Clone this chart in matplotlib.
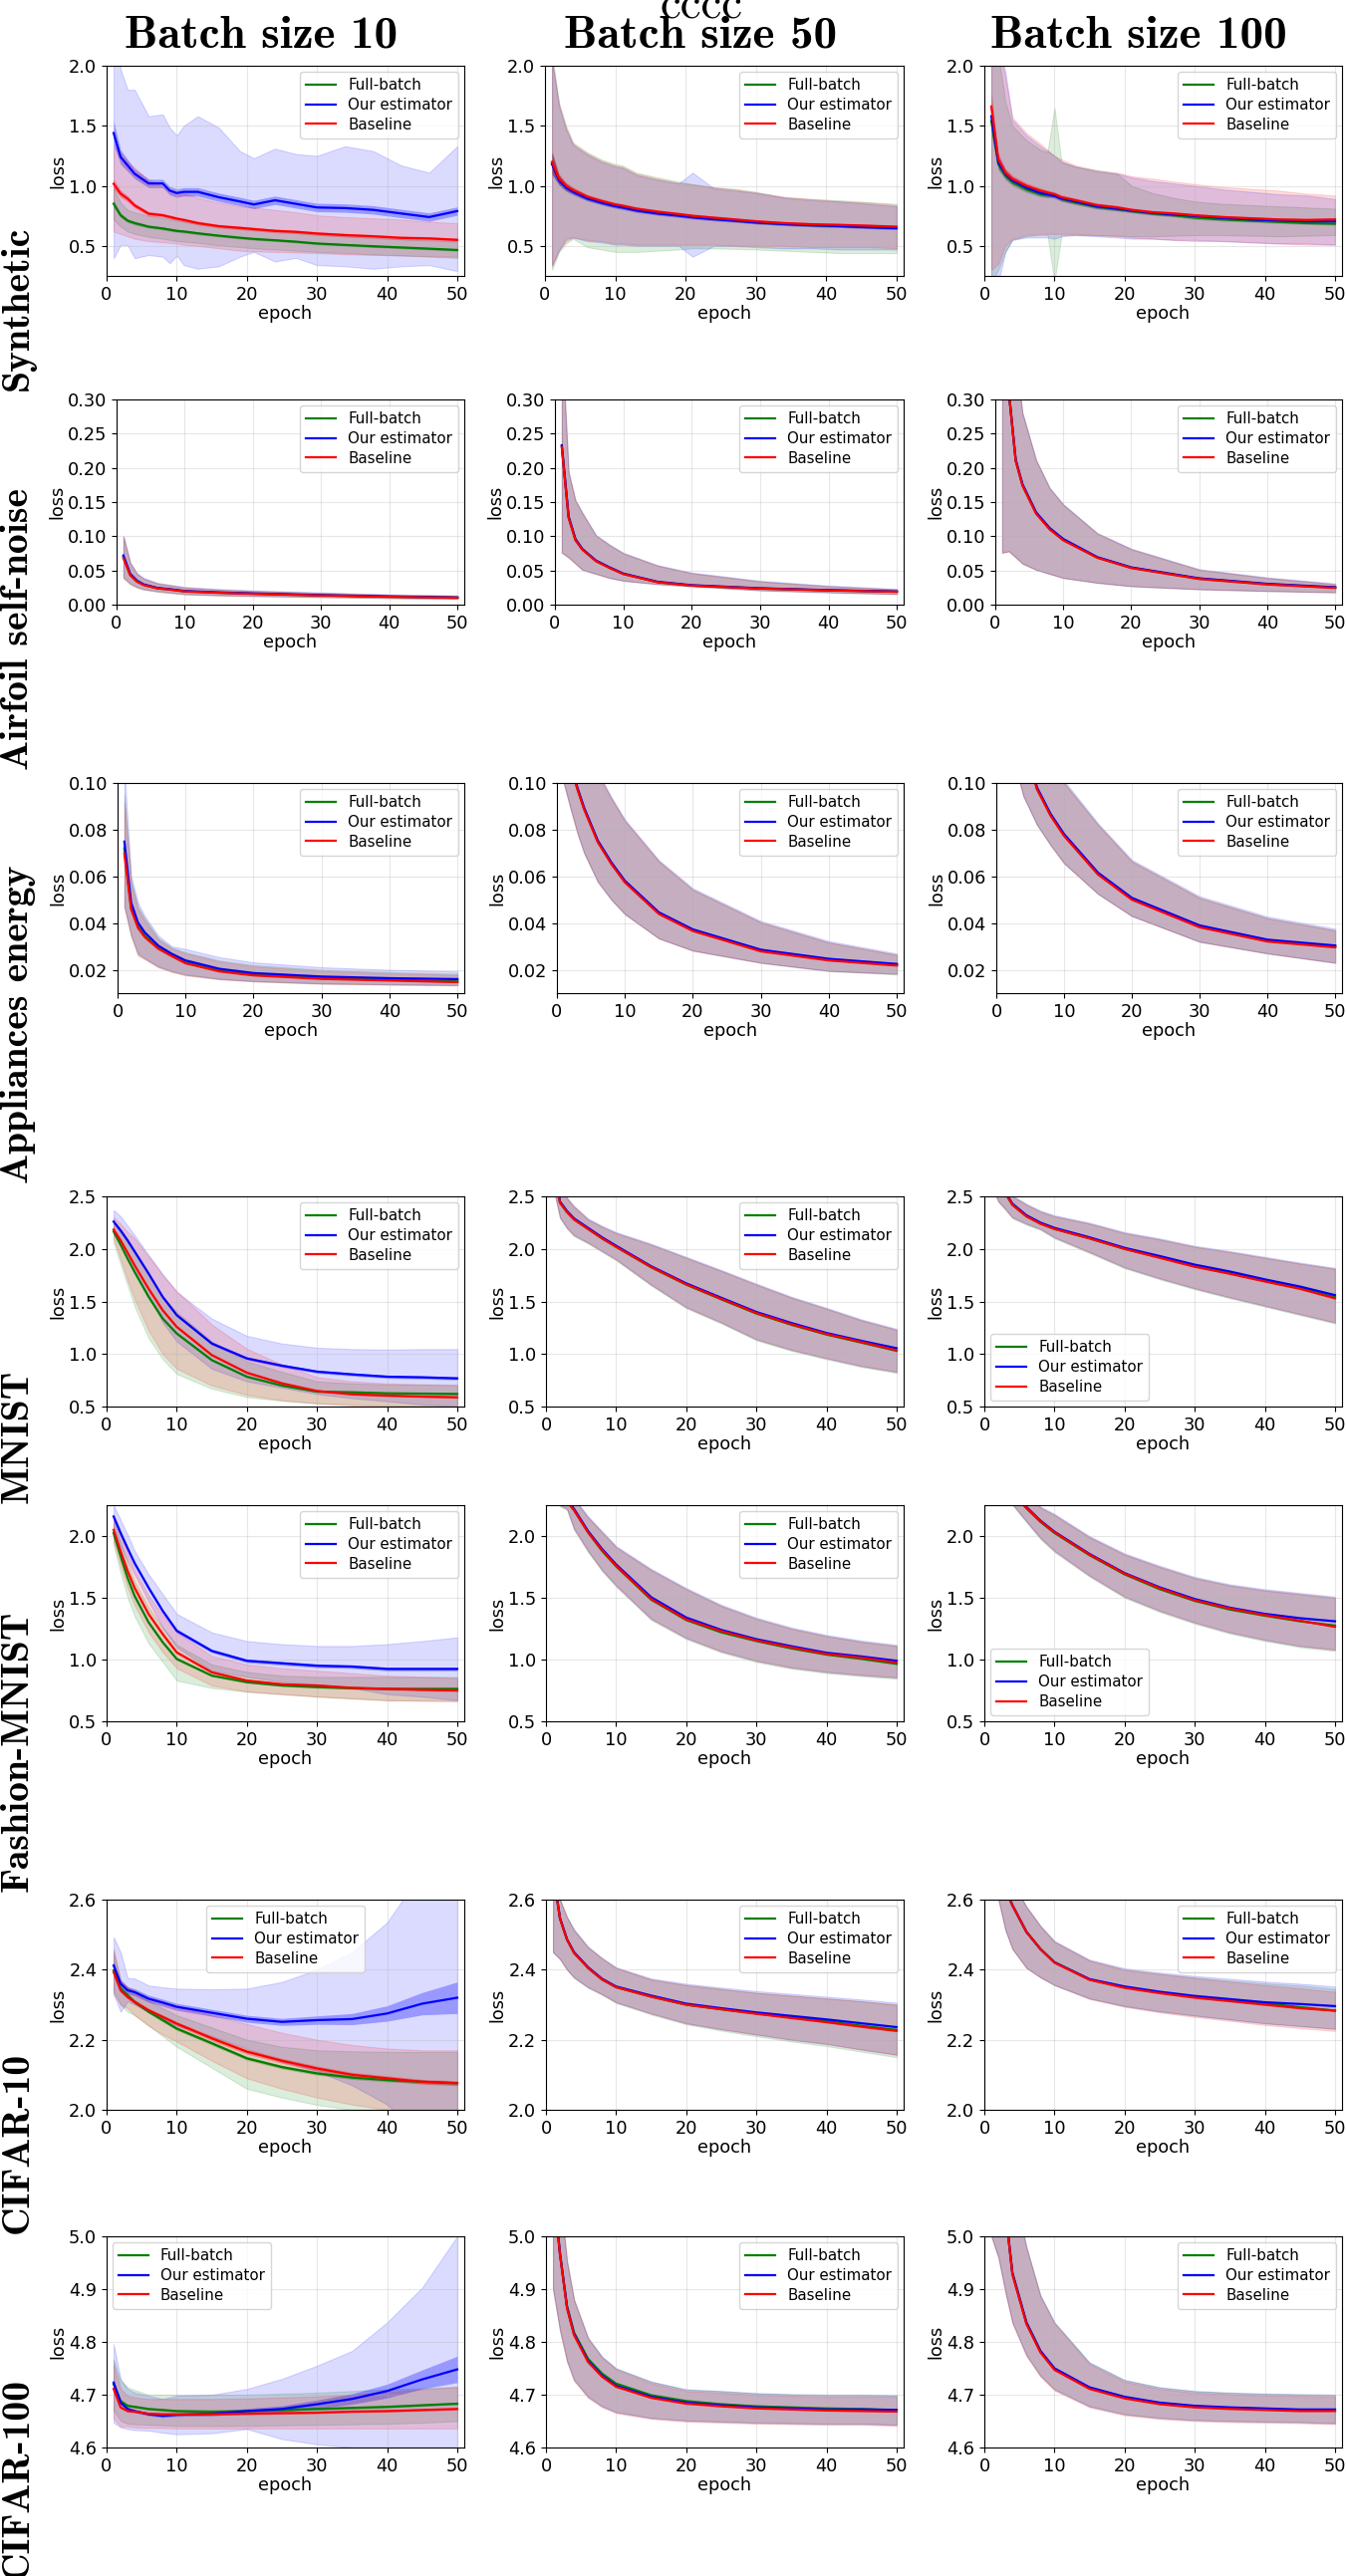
import os
import matplotlib
matplotlib.use("Agg")
import matplotlib.pyplot as plt
from matplotlib.font_manager import FontProperties

EPOCHS_SYN = [1, 2, 3, 4, 6, 8, 9, 10, 11, 13, 16, 19, 21, 24, 27, 30, 34, 38, 42, 46, 50]
EPOCHS_A = [1, 2, 3, 4, 6, 8, 10, 15, 20, 30, 40, 50]
EPOCHS_B = [1, 2, 3, 4, 6, 8, 10, 15, 20, 25, 30, 35, 40, 45, 50]

LABELS = ["Full-batch", "Our estimator", "Baseline"]
COLORS = ["green", "blue", "red"]
BATCH_TITLES = ["Batch size 10", "Batch size 50", "Batch size 100"]
DATASETS = ["Synthetic", "Airfoil self-noise", "Appliances energy", "MNIST",
            "Fashion-MNIST", "CIFAR-10", "CIFAR-100"]

# ---------------- Synthetic ----------------  (order: full-batch, ours, baseline)
syn_b10_mean = [
    [0.851, 0.755, 0.71, 0.69, 0.66, 0.645, 0.635, 0.625, 0.62, 0.605, 0.585, 0.568, 0.558, 0.547, 0.535, 0.52, 0.508, 0.497, 0.487, 0.477, 0.466],
    [1.44, 1.24, 1.17, 1.10, 1.02, 1.02, 0.96, 0.94, 0.95, 0.95, 0.905, 0.87, 0.845, 0.88, 0.85, 0.82, 0.815, 0.80, 0.77, 0.74, 0.79],
    [1.017, 0.934, 0.893, 0.837, 0.768, 0.755, 0.741, 0.727, 0.716, 0.69, 0.664, 0.65, 0.64, 0.625, 0.617, 0.603, 0.59, 0.58, 0.567, 0.562, 0.55]]
syn_b10_hi = [
    [0.98, 0.86, 0.80, 0.78, 0.75, 0.73, 0.72, 0.71, 0.70, 0.685, 0.665, 0.645, 0.635, 0.625, 0.61, 0.595, 0.58, 0.565, 0.555, 0.545, 0.535],
    [2.45, 1.97, 1.80, 1.80, 1.58, 1.595, 1.485, 1.42, 1.50, 1.58, 1.485, 1.29, 1.23, 1.31, 1.265, 1.25, 1.33, 1.29, 1.17, 1.11, 1.33],
    [1.33, 1.27, 1.20, 1.15, 1.05, 0.99, 0.97, 0.95, 0.94, 0.90, 0.86, 0.83, 0.82, 0.80, 0.78, 0.755, 0.74, 0.73, 0.72, 0.70, 0.69]]
syn_b10_lo = [
    [0.72, 0.66, 0.62, 0.60, 0.575, 0.56, 0.55, 0.54, 0.535, 0.525, 0.505, 0.49, 0.48, 0.47, 0.46, 0.45, 0.44, 0.43, 0.42, 0.41, 0.40],
    [0.397, 0.507, 0.507, 0.397, 0.424, 0.41, 0.355, 0.42, 0.34, 0.31, 0.33, 0.41, 0.45, 0.37, 0.40, 0.34, 0.33, 0.31, 0.33, 0.34, 0.29],
    [0.62, 0.60, 0.58, 0.56, 0.54, 0.53, 0.525, 0.52, 0.51, 0.50, 0.48, 0.46, 0.455, 0.45, 0.445, 0.44, 0.43, 0.425, 0.42, 0.415, 0.41]]
syn_b10_se = [
    [0.03, 0.02, 0.015, 0.015, 0.012, 0.012, 0.012, 0.012, 0.012, 0.012, 0.01, 0.01, 0.01, 0.01, 0.01, 0.01, 0.01, 0.01, 0.01, 0.01, 0.01],
    [0.10, 0.06, 0.05, 0.04, 0.035, 0.035, 0.035, 0.035, 0.035, 0.035, 0.035, 0.035, 0.035, 0.035, 0.035, 0.035, 0.035, 0.035, 0.035, 0.035, 0.035],
    [0.04, 0.03, 0.025, 0.02, 0.018, 0.017, 0.017, 0.016, 0.016, 0.016, 0.015, 0.015, 0.015, 0.015, 0.015, 0.015, 0.015, 0.015, 0.015, 0.015, 0.015]]

syn_b50_mean = [
    [1.19, 1.05, 0.99, 0.955, 0.90, 0.865, 0.85, 0.837, 0.826, 0.80, 0.776, 0.757, 0.745, 0.728, 0.714, 0.697, 0.683, 0.673, 0.665, 0.658, 0.65],
    [1.18, 1.045, 0.985, 0.95, 0.895, 0.86, 0.845, 0.83, 0.82, 0.795, 0.77, 0.752, 0.738, 0.722, 0.71, 0.695, 0.682, 0.672, 0.665, 0.655, 0.648],
    [1.20, 1.06, 1.00, 0.965, 0.91, 0.875, 0.86, 0.845, 0.835, 0.81, 0.785, 0.765, 0.75, 0.735, 0.72, 0.705, 0.69, 0.68, 0.675, 0.668, 0.66]]
syn_b50_hi = [
    [2.10, 1.69, 1.50, 1.36, 1.28, 1.22, 1.20, 1.18, 1.17, 1.11, 1.07, 1.035, 1.015, 0.99, 0.975, 0.95, 0.905, 0.89, 0.88, 0.865, 0.85],
    [2.05, 1.66, 1.47, 1.34, 1.26, 1.20, 1.18, 1.16, 1.15, 1.09, 1.05, 1.02, 1.11, 0.98, 0.96, 0.94, 0.90, 0.88, 0.87, 0.85, 0.83],
    [2.05, 1.68, 1.48, 1.35, 1.27, 1.21, 1.19, 1.17, 1.16, 1.10, 1.06, 1.025, 1.01, 0.985, 0.97, 0.945, 0.91, 0.89, 0.87, 0.86, 0.84]]
syn_b50_lo = [
    [0.30, 0.45, 0.52, 0.56, 0.49, 0.47, 0.46, 0.45, 0.45, 0.45, 0.46, 0.47, 0.48, 0.48, 0.475, 0.47, 0.46, 0.45, 0.44, 0.44, 0.44],
    [0.34, 0.46, 0.56, 0.57, 0.54, 0.53, 0.52, 0.51, 0.51, 0.50, 0.50, 0.50, 0.41, 0.50, 0.50, 0.49, 0.48, 0.48, 0.47, 0.47, 0.47],
    [0.33, 0.47, 0.54, 0.57, 0.55, 0.54, 0.53, 0.52, 0.52, 0.51, 0.51, 0.51, 0.51, 0.51, 0.50, 0.50, 0.50, 0.49, 0.49, 0.49, 0.48]]
syn_b50_se = [
    [0.09, 0.04, 0.03, 0.025, 0.02, 0.018, 0.018, 0.017, 0.017, 0.016, 0.015, 0.015, 0.015, 0.014, 0.014, 0.013, 0.013, 0.013, 0.012, 0.012, 0.012],
    [0.09, 0.04, 0.03, 0.025, 0.02, 0.018, 0.018, 0.017, 0.017, 0.016, 0.015, 0.015, 0.015, 0.014, 0.014, 0.013, 0.013, 0.013, 0.012, 0.012, 0.012],
    [0.09, 0.04, 0.03, 0.025, 0.02, 0.018, 0.018, 0.017, 0.017, 0.016, 0.015, 0.015, 0.015, 0.014, 0.014, 0.013, 0.013, 0.013, 0.012, 0.012, 0.012]]

syn_b100_mean = [
    [1.54, 1.18, 1.085, 1.03, 0.97, 0.93, 0.92, 0.925, 0.89, 0.86, 0.825, 0.805, 0.79, 0.77, 0.755, 0.735, 0.72, 0.71, 0.70, 0.69, 0.685],
    [1.58, 1.195, 1.10, 1.045, 0.985, 0.94, 0.93, 0.915, 0.895, 0.87, 0.83, 0.81, 0.795, 0.775, 0.762, 0.75, 0.733, 0.72, 0.712, 0.705, 0.705],
    [1.66, 1.22, 1.11, 1.057, 1.0, 0.96, 0.945, 0.93, 0.905, 0.88, 0.84, 0.82, 0.80, 0.78, 0.77, 0.755, 0.74, 0.73, 0.72, 0.716, 0.72]]
syn_b100_hi = [
    [2.9, 2.1, 1.7, 1.5, 1.38, 1.3, 1.28, 1.65, 1.2, 1.16, 1.13, 1.10, 1.0, 0.94, 0.90, 0.87, 0.85, 0.84, 0.83, 0.82, 0.81],
    [3.0, 2.2, 1.95, 1.55, 1.42, 1.33, 1.29, 1.25, 1.20, 1.16, 1.12, 1.10, 1.07, 1.04, 1.02, 1.0, 0.97, 0.95, 0.93, 0.92, 0.89],
    [2.9, 2.2, 1.9, 1.57, 1.44, 1.35, 1.30, 1.25, 1.22, 1.17, 1.13, 1.11, 1.08, 1.06, 1.035, 1.015, 0.99, 0.975, 0.96, 0.935, 0.92]]
syn_b100_lo = [
    [0.2, 0.3, 0.45, 0.55, 0.58, 0.59, 0.59, 0.2, 0.59, 0.59, 0.59, 0.585, 0.58, 0.58, 0.585, 0.59, 0.59, 0.585, 0.58, 0.585, 0.59],
    [0.1, 0.2, 0.45, 0.55, 0.57, 0.57, 0.57, 0.56, 0.58, 0.59, 0.58, 0.57, 0.56, 0.56, 0.55, 0.55, 0.54, 0.53, 0.52, 0.52, 0.51],
    [0.3, 0.35, 0.5, 0.56, 0.59, 0.6, 0.6, 0.6, 0.6, 0.6, 0.59, 0.58, 0.57, 0.56, 0.55, 0.54, 0.54, 0.53, 0.52, 0.51, 0.51]]
syn_b100_se = [
    [0.12, 0.05, 0.035, 0.03, 0.025, 0.022, 0.02, 0.02, 0.02, 0.018, 0.017, 0.016, 0.015, 0.015, 0.014, 0.014, 0.013, 0.013, 0.013, 0.012, 0.012],
    [0.12, 0.05, 0.035, 0.03, 0.025, 0.022, 0.02, 0.02, 0.02, 0.018, 0.017, 0.016, 0.015, 0.015, 0.014, 0.014, 0.013, 0.013, 0.013, 0.012, 0.012],
    [0.12, 0.05, 0.035, 0.03, 0.025, 0.022, 0.02, 0.02, 0.02, 0.018, 0.017, 0.016, 0.015, 0.015, 0.014, 0.014, 0.013, 0.013, 0.013, 0.012, 0.012]]

# ---------------- Airfoil self-noise ----------------
air_b10_mean = [
    [0.070, 0.044, 0.034, 0.029, 0.024, 0.022, 0.0195, 0.0175, 0.016, 0.0136, 0.0117, 0.0102],
    [0.072, 0.045, 0.035, 0.0295, 0.0245, 0.0225, 0.020, 0.018, 0.0165, 0.014, 0.012, 0.0105],
    [0.068, 0.043, 0.0335, 0.0285, 0.0238, 0.0218, 0.0193, 0.0173, 0.0158, 0.0134, 0.0115, 0.010]]
air_b10_hi = [
    [0.0997, 0.061, 0.045, 0.038, 0.031, 0.028, 0.025, 0.022, 0.020, 0.017, 0.0145, 0.013],
    [0.101, 0.062, 0.046, 0.039, 0.032, 0.029, 0.026, 0.023, 0.021, 0.018, 0.015, 0.0135],
    [0.0997, 0.061, 0.045, 0.038, 0.031, 0.028, 0.025, 0.022, 0.020, 0.017, 0.0145, 0.013]]
air_b10_lo = [
    [0.039, 0.030, 0.025, 0.022, 0.019, 0.017, 0.015, 0.0135, 0.0125, 0.011, 0.0095, 0.0085],
    [0.040, 0.031, 0.026, 0.023, 0.020, 0.018, 0.016, 0.014, 0.013, 0.0115, 0.010, 0.009],
    [0.039, 0.030, 0.025, 0.022, 0.019, 0.017, 0.015, 0.0135, 0.0125, 0.011, 0.0095, 0.0085]]

air_b50_mean = [
    [0.232, 0.128, 0.095, 0.081, 0.064, 0.054, 0.045, 0.033, 0.028, 0.0237, 0.021, 0.019],
    [0.233, 0.129, 0.096, 0.0815, 0.0645, 0.0545, 0.0455, 0.0335, 0.0285, 0.024, 0.0213, 0.0193],
    [0.230, 0.127, 0.094, 0.0805, 0.0635, 0.0535, 0.0447, 0.0328, 0.0278, 0.0235, 0.0208, 0.0188]]
air_b50_hi = [
    [0.39, 0.193, 0.152, 0.134, 0.101, 0.087, 0.075, 0.057, 0.046, 0.034, 0.027, 0.0225],
    [0.39, 0.194, 0.153, 0.135, 0.102, 0.088, 0.076, 0.058, 0.047, 0.035, 0.028, 0.023],
    [0.39, 0.193, 0.152, 0.134, 0.101, 0.087, 0.075, 0.057, 0.046, 0.034, 0.027, 0.0225]]
air_b50_lo = [
    [0.076, 0.069, 0.060, 0.051, 0.045, 0.039, 0.035, 0.030, 0.027, 0.021, 0.018, 0.0155],
    [0.076, 0.069, 0.060, 0.051, 0.045, 0.039, 0.035, 0.030, 0.027, 0.021, 0.018, 0.0155],
    [0.076, 0.069, 0.060, 0.051, 0.045, 0.039, 0.035, 0.030, 0.027, 0.021, 0.018, 0.0155]]

air_b100_mean = [
    [0.55, 0.31, 0.211, 0.175, 0.134, 0.111, 0.095, 0.069, 0.054, 0.038, 0.030, 0.025],
    [0.55, 0.31, 0.212, 0.176, 0.135, 0.112, 0.096, 0.0695, 0.0545, 0.0385, 0.0305, 0.0255],
    [0.55, 0.31, 0.210, 0.174, 0.133, 0.110, 0.094, 0.0685, 0.0535, 0.0375, 0.0295, 0.0245]]
air_b100_hi = [
    [1.0, 0.55, 0.36, 0.28, 0.211, 0.17, 0.146, 0.104, 0.081, 0.051, 0.039, 0.030],
    [1.0, 0.55, 0.36, 0.28, 0.212, 0.171, 0.147, 0.105, 0.082, 0.052, 0.040, 0.031],
    [1.0, 0.55, 0.36, 0.28, 0.211, 0.17, 0.146, 0.104, 0.081, 0.051, 0.039, 0.030]]
air_b100_lo = [
    [0.076, 0.078, 0.069, 0.060, 0.051, 0.045, 0.039, 0.032, 0.027, 0.0225, 0.020, 0.018],
    [0.076, 0.078, 0.069, 0.060, 0.051, 0.045, 0.039, 0.032, 0.027, 0.0225, 0.020, 0.018],
    [0.076, 0.078, 0.069, 0.060, 0.051, 0.045, 0.039, 0.032, 0.027, 0.0225, 0.020, 0.018]]

# ---------------- Appliances energy ----------------
app_b10_mean = [
    [0.072, 0.0465, 0.0385, 0.0345, 0.0293, 0.026, 0.0231, 0.0196, 0.0179, 0.0164, 0.0157, 0.015],
    [0.0749, 0.0487, 0.0402, 0.036, 0.0303, 0.0268, 0.024, 0.0204, 0.0186, 0.0171, 0.0164, 0.016],
    [0.0697, 0.0459, 0.038, 0.034, 0.029, 0.0258, 0.0228, 0.0193, 0.0176, 0.0161, 0.0154, 0.0147]]
app_b10_hi = [
    [0.095, 0.058, 0.047, 0.042, 0.0335, 0.0295, 0.0275, 0.024, 0.022, 0.020, 0.019, 0.0183],
    [0.106, 0.060, 0.0487, 0.043, 0.0346, 0.030, 0.0289, 0.0254, 0.0232, 0.0211, 0.020, 0.0193],
    [0.092, 0.057, 0.046, 0.041, 0.033, 0.029, 0.027, 0.0235, 0.0215, 0.0195, 0.0185, 0.0178]]
app_b10_lo = [
    [0.047, 0.0345, 0.0265, 0.0247, 0.0212, 0.0192, 0.0178, 0.016, 0.0151, 0.0141, 0.0137, 0.0134],
    [0.047, 0.035, 0.027, 0.025, 0.0215, 0.0195, 0.018, 0.0162, 0.0152, 0.0142, 0.0138, 0.0135],
    [0.047, 0.034, 0.026, 0.0245, 0.021, 0.019, 0.0176, 0.0159, 0.015, 0.014, 0.0136, 0.0133]]

app_b50_mean = [
    [0.135, 0.108, 0.0977, 0.089, 0.075, 0.0656, 0.0577, 0.0442, 0.0369, 0.0282, 0.0243, 0.0221],
    [0.135, 0.108, 0.0981, 0.0894, 0.0754, 0.066, 0.0581, 0.0446, 0.0373, 0.0286, 0.0247, 0.0225],
    [0.135, 0.108, 0.0974, 0.0887, 0.0747, 0.0653, 0.0574, 0.0439, 0.0366, 0.0279, 0.024, 0.0218]]
app_b50_hi = [
    [0.20, 0.17, 0.15, 0.135, 0.104, 0.0934, 0.0838, 0.0664, 0.0543, 0.0403, 0.0317, 0.0264],
    [0.20, 0.17, 0.15, 0.135, 0.105, 0.0940, 0.0844, 0.0670, 0.0549, 0.0409, 0.0323, 0.0270],
    [0.20, 0.17, 0.15, 0.135, 0.104, 0.0934, 0.0838, 0.0664, 0.0543, 0.0403, 0.0317, 0.0264]]
app_b50_lo = [
    [0.10, 0.089, 0.0786, 0.070, 0.0577, 0.050, 0.0438, 0.0334, 0.0282, 0.023, 0.0195, 0.0180],
    [0.10, 0.089, 0.0786, 0.070, 0.0577, 0.050, 0.0438, 0.0334, 0.0282, 0.023, 0.0195, 0.0183],
    [0.10, 0.089, 0.0786, 0.070, 0.0577, 0.050, 0.0438, 0.0334, 0.0282, 0.023, 0.0195, 0.0183]]

app_b100_mean = [
    [0.20, 0.16, 0.135, 0.118, 0.0977, 0.0864, 0.0777, 0.0612, 0.0504, 0.0386, 0.0325, 0.030],
    [0.20, 0.16, 0.135, 0.1184, 0.0981, 0.0868, 0.0781, 0.0616, 0.0508, 0.039, 0.0329, 0.0304],
    [0.20, 0.16, 0.135, 0.1176, 0.0973, 0.086, 0.0773, 0.0608, 0.05, 0.0382, 0.0321, 0.0296]]
app_b100_hi = [
    [0.30, 0.24, 0.19, 0.16, 0.13, 0.115, 0.10, 0.0821, 0.0664, 0.0508, 0.0421, 0.0369],
    [0.30, 0.24, 0.19, 0.16, 0.131, 0.116, 0.101, 0.0828, 0.0671, 0.0515, 0.0428, 0.0376],
    [0.30, 0.24, 0.19, 0.16, 0.13, 0.115, 0.10, 0.0821, 0.0664, 0.0508, 0.0421, 0.0369]]
app_b100_lo = [
    [0.14, 0.12, 0.105, 0.0943, 0.0821, 0.0734, 0.0656, 0.0525, 0.043, 0.032, 0.027, 0.023],
    [0.14, 0.12, 0.105, 0.0943, 0.0821, 0.0734, 0.0656, 0.0525, 0.043, 0.032, 0.027, 0.023],
    [0.14, 0.12, 0.105, 0.0943, 0.0821, 0.0734, 0.0656, 0.0525, 0.043, 0.032, 0.027, 0.023]]

# ---------------- MNIST ----------------
mnist_b10_mean = [
    [2.165, 2.04, 1.906, 1.78, 1.543, 1.337, 1.195, 0.942, 0.784, 0.699, 0.642, 0.636, 0.626, 0.623, 0.62],
    [2.26, 2.175, 2.08, 1.975, 1.764, 1.543, 1.37, 1.10, 0.958, 0.889, 0.832, 0.806, 0.784, 0.778, 0.768],
    [2.184, 2.08, 1.963, 1.843, 1.62, 1.416, 1.258, 0.99, 0.822, 0.721, 0.648, 0.617, 0.604, 0.595, 0.588]]
mnist_b10_hi = [
    [2.26, 2.17, 2.06, 1.96, 1.75, 1.55, 1.40, 1.12, 0.93, 0.83, 0.74, 0.72, 0.71, 0.71, 0.71],
    [2.37, 2.31, 2.22, 2.13, 1.94, 1.76, 1.59, 1.337, 1.173, 1.10, 1.06, 1.047, 1.043, 1.047, 1.047],
    [2.30, 2.24, 2.16, 2.10, 1.93, 1.75, 1.60, 1.28, 1.05, 0.90, 0.78, 0.74, 0.72, 0.71, 0.70]]
mnist_b10_lo = [
    [2.06, 1.85, 1.65, 1.45, 1.15, 0.95, 0.81, 0.67, 0.59, 0.555, 0.53, 0.52, 0.51, 0.505, 0.50],
    [2.15, 2.03, 1.90, 1.78, 1.55, 1.30, 1.12, 0.86, 0.74, 0.68, 0.62, 0.58, 0.55, 0.52, 0.50],
    [2.10, 1.90, 1.70, 1.52, 1.22, 1.00, 0.86, 0.70, 0.61, 0.56, 0.53, 0.51, 0.50, 0.49, 0.49]]
mnist_b10_se = [
    [0.01, 0.01, 0.01, 0.01, 0.01, 0.01, 0.01, 0.01, 0.008, 0.008, 0.008, 0.008, 0.008, 0.008, 0.008],
    [0.02, 0.018, 0.016, 0.015, 0.015, 0.015, 0.015, 0.015, 0.015, 0.015, 0.015, 0.015, 0.015, 0.015, 0.015],
    [0.01, 0.01, 0.01, 0.01, 0.01, 0.01, 0.01, 0.01, 0.01, 0.01, 0.01, 0.01, 0.01, 0.01, 0.01]]

mnist_b50_mean = [
    [2.8, 2.44, 2.35, 2.28, 2.19, 2.10, 2.02, 1.825, 1.66, 1.52, 1.385, 1.278, 1.185, 1.108, 1.03],
    [2.82, 2.45, 2.36, 2.29, 2.20, 2.11, 2.03, 1.835, 1.672, 1.535, 1.40, 1.295, 1.20, 1.125, 1.055],
    [2.8, 2.44, 2.35, 2.28, 2.19, 2.10, 2.02, 1.828, 1.663, 1.525, 1.39, 1.283, 1.19, 1.114, 1.035]]
mnist_b50_hi = [
    [3.0, 2.6, 2.48, 2.40, 2.28, 2.21, 2.15, 2.04, 1.915, 1.79, 1.66, 1.536, 1.43, 1.32, 1.23],
    [3.0, 2.61, 2.49, 2.41, 2.29, 2.22, 2.16, 2.05, 1.925, 1.80, 1.67, 1.546, 1.44, 1.33, 1.24],
    [3.0, 2.6, 2.48, 2.40, 2.28, 2.21, 2.15, 2.04, 1.915, 1.79, 1.66, 1.536, 1.43, 1.32, 1.23]]
mnist_b50_lo = [
    [2.59, 2.29, 2.19, 2.12, 2.05, 1.97, 1.89, 1.65, 1.435, 1.29, 1.13, 1.03, 0.95, 0.876, 0.82],
    [2.6, 2.30, 2.20, 2.13, 2.06, 1.98, 1.90, 1.66, 1.445, 1.30, 1.14, 1.04, 0.96, 0.886, 0.83],
    [2.6, 2.30, 2.20, 2.13, 2.06, 1.98, 1.90, 1.66, 1.445, 1.30, 1.14, 1.04, 0.96, 0.886, 0.83]]

mnist_b100_mean = [
    [3.0, 2.7, 2.53, 2.42, 2.31, 2.24, 2.19, 2.10, 2.0, 1.92, 1.835, 1.77, 1.695, 1.627, 1.54],
    [3.0, 2.71, 2.54, 2.43, 2.32, 2.25, 2.20, 2.11, 2.01, 1.932, 1.85, 1.785, 1.71, 1.642, 1.56],
    [3.0, 2.7, 2.53, 2.42, 2.31, 2.24, 2.19, 2.10, 2.0, 1.915, 1.83, 1.763, 1.69, 1.62, 1.53]]
mnist_b100_hi = [
    [3.2, 2.85, 2.62, 2.50, 2.42, 2.355, 2.31, 2.24, 2.15, 2.09, 2.02, 1.97, 1.915, 1.86, 1.81],
    [3.2, 2.86, 2.63, 2.51, 2.43, 2.365, 2.32, 2.25, 2.16, 2.10, 2.03, 1.98, 1.925, 1.87, 1.82],
    [3.2, 2.85, 2.62, 2.50, 2.42, 2.355, 2.31, 2.24, 2.15, 2.09, 2.02, 1.97, 1.915, 1.86, 1.81]]
mnist_b100_lo = [
    [2.6, 2.45, 2.37, 2.29, 2.23, 2.18, 2.10, 1.96, 1.815, 1.71, 1.615, 1.53, 1.45, 1.37, 1.29],
    [2.6, 2.45, 2.38, 2.30, 2.24, 2.19, 2.11, 1.97, 1.825, 1.72, 1.625, 1.54, 1.46, 1.38, 1.30],
    [2.6, 2.45, 2.38, 2.30, 2.24, 2.19, 2.11, 1.97, 1.825, 1.72, 1.625, 1.54, 1.46, 1.38, 1.30]]

# ---------------- Fashion-MNIST ----------------
fmnist_b10_mean = [
    [2.024, 1.836, 1.66, 1.514, 1.30, 1.14, 1.005, 0.87, 0.817, 0.79, 0.777, 0.768, 0.763, 0.763, 0.763],
    [2.158, 2.024, 1.90, 1.78, 1.58, 1.394, 1.233, 1.07, 0.99, 0.97, 0.95, 0.943, 0.924, 0.924, 0.924],
    [2.05, 1.877, 1.716, 1.58, 1.367, 1.206, 1.058, 0.897, 0.83, 0.80, 0.79, 0.771, 0.763, 0.755, 0.75]]
fmnist_b10_hi = [
    [2.12, 1.95, 1.78, 1.63, 1.42, 1.26, 1.12, 0.96, 0.90, 0.87, 0.86, 0.86, 0.86, 0.86, 0.86],
    [2.25, 2.13, 2.01, 1.88, 1.69, 1.53, 1.37, 1.22, 1.15, 1.125, 1.11, 1.11, 1.125, 1.15, 1.18],
    [2.15, 2.0, 1.86, 1.73, 1.52, 1.36, 1.22, 1.03, 0.96, 0.93, 0.91, 0.89, 0.87, 0.86, 0.85]]
fmnist_b10_lo = [
    [1.93, 1.70, 1.50, 1.35, 1.13, 0.98, 0.83, 0.77, 0.74, 0.72, 0.70, 0.685, 0.67, 0.67, 0.67],
    [2.06, 1.92, 1.80, 1.69, 1.47, 1.26, 1.10, 0.91, 0.86, 0.82, 0.80, 0.77, 0.72, 0.70, 0.67],
    [1.95, 1.76, 1.58, 1.44, 1.22, 1.06, 0.93, 0.79, 0.74, 0.72, 0.70, 0.685, 0.67, 0.665, 0.66]]
fmnist_b10_se = [
    [0.01, 0.01, 0.01, 0.01, 0.01, 0.01, 0.01, 0.008, 0.008, 0.008, 0.008, 0.008, 0.008, 0.008, 0.008],
    [0.02, 0.018, 0.016, 0.015, 0.015, 0.015, 0.015, 0.015, 0.015, 0.015, 0.015, 0.015, 0.015, 0.015, 0.015],
    [0.01, 0.01, 0.01, 0.01, 0.01, 0.01, 0.01, 0.01, 0.01, 0.01, 0.01, 0.01, 0.01, 0.01, 0.01]]

fmnist_b50_mean = [
    [2.6, 2.4, 2.28, 2.21, 2.03, 1.88, 1.755, 1.485, 1.32, 1.22, 1.15, 1.09, 1.04, 1.005, 0.965],
    [2.62, 2.41, 2.29, 2.22, 2.04, 1.895, 1.77, 1.505, 1.34, 1.24, 1.165, 1.108, 1.055, 1.025, 0.99],
    [2.6, 2.4, 2.28, 2.21, 2.03, 1.885, 1.76, 1.49, 1.325, 1.23, 1.155, 1.098, 1.045, 1.015, 0.975]]
fmnist_b50_hi = [
    [2.8, 2.6, 2.45, 2.30, 2.15, 2.03, 1.91, 1.725, 1.57, 1.434, 1.33, 1.25, 1.19, 1.144, 1.11],
    [2.8, 2.61, 2.46, 2.31, 2.16, 2.04, 1.92, 1.735, 1.58, 1.444, 1.34, 1.26, 1.20, 1.154, 1.12],
    [2.8, 2.6, 2.45, 2.30, 2.15, 2.03, 1.91, 1.725, 1.57, 1.434, 1.33, 1.25, 1.19, 1.144, 1.11]]
fmnist_b50_lo = [
    [2.39, 2.24, 2.21, 2.05, 1.87, 1.715, 1.59, 1.32, 1.165, 1.057, 0.98, 0.926, 0.89, 0.865, 0.845],
    [2.4, 2.25, 2.22, 2.06, 1.88, 1.725, 1.60, 1.33, 1.175, 1.067, 0.99, 0.936, 0.90, 0.875, 0.855],
    [2.4, 2.25, 2.22, 2.06, 1.88, 1.725, 1.60, 1.33, 1.175, 1.067, 0.99, 0.936, 0.90, 0.875, 0.855]]

fmnist_b100_mean = [
    [2.8, 2.6, 2.45, 2.35, 2.225, 2.115, 2.025, 1.845, 1.69, 1.57, 1.475, 1.405, 1.355, 1.31, 1.275],
    [2.8, 2.6, 2.45, 2.35, 2.235, 2.125, 2.035, 1.855, 1.70, 1.585, 1.49, 1.42, 1.37, 1.335, 1.31],
    [2.8, 2.6, 2.45, 2.35, 2.23, 2.12, 2.03, 1.85, 1.695, 1.578, 1.48, 1.413, 1.36, 1.315, 1.265]]
fmnist_b100_hi = [
    [3.0, 2.8, 2.6, 2.45, 2.35, 2.23, 2.17, 1.99, 1.85, 1.75, 1.66, 1.60, 1.56, 1.53, 1.50],
    [3.0, 2.8, 2.6, 2.46, 2.36, 2.24, 2.18, 2.0, 1.86, 1.76, 1.67, 1.61, 1.57, 1.54, 1.51],
    [3.0, 2.8, 2.6, 2.45, 2.35, 2.23, 2.17, 1.99, 1.85, 1.75, 1.66, 1.60, 1.56, 1.53, 1.50]]
fmnist_b100_lo = [
    [2.6, 2.45, 2.34, 2.25, 2.11, 1.975, 1.87, 1.67, 1.50, 1.385, 1.29, 1.21, 1.15, 1.10, 1.07],
    [2.6, 2.45, 2.35, 2.26, 2.12, 1.985, 1.88, 1.68, 1.51, 1.395, 1.30, 1.22, 1.16, 1.11, 1.08],
    [2.6, 2.45, 2.35, 2.26, 2.12, 1.985, 1.88, 1.68, 1.51, 1.395, 1.30, 1.22, 1.16, 1.11, 1.08]]

# ---------------- CIFAR-10 ----------------
c10_b10_mean = [
    [2.398, 2.346, 2.327, 2.308, 2.28, 2.256, 2.232, 2.19, 2.147, 2.122, 2.104, 2.092, 2.085, 2.08, 2.076],
    [2.412, 2.36, 2.341, 2.336, 2.317, 2.306, 2.294, 2.277, 2.26, 2.251, 2.256, 2.259, 2.275, 2.303, 2.32],
    [2.393, 2.341, 2.322, 2.308, 2.284, 2.265, 2.246, 2.204, 2.166, 2.14, 2.118, 2.10, 2.09, 2.08, 2.076]]
c10_b10_hi = [
    [2.45, 2.37, 2.35, 2.335, 2.31, 2.29, 2.27, 2.235, 2.20, 2.18, 2.17, 2.167, 2.165, 2.165, 2.165],
    [2.493, 2.45, 2.376, 2.375, 2.355, 2.35, 2.346, 2.344, 2.346, 2.365, 2.40, 2.45, 2.535, 2.68, 2.80],
    [2.46, 2.37, 2.35, 2.34, 2.32, 2.31, 2.295, 2.27, 2.245, 2.22, 2.20, 2.185, 2.175, 2.17, 2.17]]
c10_b10_lo = [
    [2.34, 2.30, 2.28, 2.27, 2.24, 2.21, 2.18, 2.12, 2.06, 2.035, 2.014, 2.0, 1.98, 1.97, 1.96],
    [2.33, 2.28, 2.31, 2.30, 2.28, 2.26, 2.24, 2.21, 2.175, 2.137, 2.11, 2.07, 2.015, 1.92, 1.84],
    [2.33, 2.30, 2.29, 2.27, 2.24, 2.215, 2.195, 2.14, 2.09, 2.06, 2.035, 2.015, 2.0, 1.99, 1.98]]
c10_b10_se = [
    [0.008, 0.006, 0.005, 0.005, 0.005, 0.005, 0.005, 0.005, 0.005, 0.005, 0.005, 0.005, 0.005, 0.005, 0.005],
    [0.012, 0.01, 0.01, 0.01, 0.01, 0.01, 0.01, 0.01, 0.01, 0.01, 0.012, 0.016, 0.022, 0.032, 0.045],
    [0.008, 0.006, 0.006, 0.006, 0.006, 0.006, 0.006, 0.007, 0.007, 0.007, 0.007, 0.007, 0.007, 0.007, 0.007]]

c10_b50_mean = [
    [2.68, 2.546, 2.486, 2.448, 2.405, 2.372, 2.35, 2.323, 2.30, 2.287, 2.275, 2.264, 2.253, 2.24, 2.228],
    [2.68, 2.547, 2.487, 2.45, 2.407, 2.374, 2.352, 2.326, 2.303, 2.29, 2.278, 2.268, 2.258, 2.247, 2.236],
    [2.68, 2.546, 2.486, 2.448, 2.405, 2.372, 2.35, 2.323, 2.30, 2.287, 2.274, 2.262, 2.25, 2.237, 2.225]]
c10_b50_hi = [
    [2.9, 2.6, 2.55, 2.513, 2.464, 2.432, 2.405, 2.372, 2.356, 2.345, 2.334, 2.326, 2.318, 2.31, 2.30],
    [2.9, 2.6, 2.55, 2.515, 2.466, 2.434, 2.407, 2.375, 2.36, 2.349, 2.339, 2.331, 2.323, 2.315, 2.306],
    [2.9, 2.6, 2.55, 2.513, 2.464, 2.432, 2.405, 2.372, 2.356, 2.345, 2.334, 2.326, 2.318, 2.31, 2.30]]
c10_b50_lo = [
    [2.45, 2.43, 2.40, 2.376, 2.348, 2.328, 2.305, 2.272, 2.244, 2.226, 2.21, 2.195, 2.182, 2.166, 2.15],
    [2.45, 2.43, 2.40, 2.378, 2.35, 2.33, 2.307, 2.275, 2.247, 2.23, 2.215, 2.20, 2.188, 2.172, 2.157],
    [2.45, 2.43, 2.40, 2.378, 2.35, 2.33, 2.307, 2.275, 2.247, 2.23, 2.215, 2.20, 2.188, 2.172, 2.157]]

c10_b100_mean = [
    [2.9, 2.72, 2.63, 2.584, 2.508, 2.459, 2.421, 2.372, 2.35, 2.335, 2.323, 2.313, 2.304, 2.293, 2.283],
    [2.9, 2.72, 2.63, 2.584, 2.508, 2.459, 2.421, 2.373, 2.352, 2.337, 2.325, 2.316, 2.307, 2.302, 2.296],
    [2.9, 2.72, 2.63, 2.584, 2.508, 2.459, 2.42, 2.371, 2.348, 2.333, 2.32, 2.31, 2.30, 2.29, 2.283]]
c10_b100_hi = [
    [3.1, 2.9, 2.75, 2.65, 2.58, 2.524, 2.48, 2.426, 2.40, 2.388, 2.378, 2.369, 2.361, 2.355, 2.345],
    [3.1, 2.9, 2.75, 2.65, 2.58, 2.526, 2.482, 2.429, 2.404, 2.392, 2.382, 2.374, 2.366, 2.36, 2.352],
    [3.1, 2.9, 2.75, 2.65, 2.58, 2.524, 2.48, 2.426, 2.40, 2.388, 2.376, 2.366, 2.356, 2.347, 2.337]]
c10_b100_lo = [
    [2.7, 2.6, 2.513, 2.459, 2.405, 2.378, 2.356, 2.318, 2.296, 2.281, 2.269, 2.258, 2.247, 2.239, 2.231],
    [2.7, 2.6, 2.513, 2.459, 2.405, 2.378, 2.356, 2.318, 2.296, 2.281, 2.269, 2.258, 2.247, 2.239, 2.231],
    [2.7, 2.6, 2.513, 2.459, 2.405, 2.378, 2.356, 2.316, 2.294, 2.278, 2.265, 2.254, 2.242, 2.233, 2.225]]

# ---------------- CIFAR-100 ----------------
c100_b10_mean = [
    [4.72, 4.688, 4.679, 4.677, 4.673, 4.671, 4.669, 4.668, 4.669, 4.671, 4.673, 4.675, 4.677, 4.68, 4.683],
    [4.723, 4.685, 4.673, 4.669, 4.663, 4.660, 4.662, 4.664, 4.669, 4.673, 4.682, 4.692, 4.707, 4.729, 4.748],
    [4.711, 4.676, 4.669, 4.668, 4.664, 4.663, 4.663, 4.663, 4.664, 4.665, 4.666, 4.668, 4.669, 4.671, 4.673]]
c100_b10_hi = [
    [4.767, 4.726, 4.714, 4.709, 4.70, 4.70, 4.70, 4.70, 4.70, 4.702, 4.704, 4.707, 4.71, 4.712, 4.715],
    [4.796, 4.73, 4.711, 4.704, 4.698, 4.692, 4.698, 4.70, 4.711, 4.73, 4.755, 4.783, 4.837, 4.903, 5.0],
    [4.758, 4.711, 4.698, 4.695, 4.692, 4.692, 4.692, 4.692, 4.693, 4.695, 4.697, 4.70, 4.705, 4.71, 4.715]]
c100_b10_lo = [
    [4.67, 4.65, 4.645, 4.644, 4.643, 4.642, 4.641, 4.641, 4.641, 4.642, 4.643, 4.644, 4.645, 4.647, 4.65],
    [4.647, 4.638, 4.635, 4.633, 4.632, 4.628, 4.625, 4.627, 4.635, 4.616, 4.606, 4.60, 4.58, 4.56, 4.50],
    [4.655, 4.64, 4.64, 4.638, 4.637, 4.637, 4.636, 4.636, 4.636, 4.636, 4.636, 4.636, 4.636, 4.636, 4.636]]
c100_b10_se = [
    [0.003, 0.002, 0.002, 0.002, 0.002, 0.002, 0.002, 0.002, 0.002, 0.002, 0.002, 0.002, 0.002, 0.002, 0.002],
    [0.006, 0.004, 0.003, 0.003, 0.003, 0.003, 0.003, 0.004, 0.005, 0.006, 0.008, 0.01, 0.013, 0.018, 0.025],
    [0.003, 0.002, 0.002, 0.002, 0.002, 0.002, 0.002, 0.002, 0.002, 0.002, 0.002, 0.002, 0.002, 0.002, 0.002]]

c100_b50_mean = [
    [5.1, 4.967, 4.868, 4.818, 4.768, 4.74, 4.721, 4.699, 4.688, 4.682, 4.678, 4.676, 4.674, 4.673, 4.671],
    [5.1, 4.967, 4.866, 4.815, 4.764, 4.736, 4.717, 4.696, 4.685, 4.68, 4.676, 4.674, 4.672, 4.672, 4.671],
    [5.1, 4.965, 4.864, 4.813, 4.762, 4.734, 4.715, 4.694, 4.683, 4.678, 4.674, 4.672, 4.670, 4.669, 4.668]]
c100_b50_hi = [
    [5.3, 5.08, 4.953, 4.88, 4.808, 4.772, 4.75, 4.725, 4.71, 4.707, 4.703, 4.701, 4.70, 4.70, 4.699],
    [5.3, 5.08, 4.953, 4.88, 4.808, 4.772, 4.75, 4.725, 4.71, 4.707, 4.703, 4.701, 4.70, 4.70, 4.699],
    [5.3, 5.08, 4.953, 4.88, 4.806, 4.77, 4.748, 4.722, 4.707, 4.704, 4.70, 4.698, 4.697, 4.697, 4.696]]
c100_b50_lo = [
    [4.9, 4.822, 4.764, 4.728, 4.696, 4.678, 4.667, 4.656, 4.651, 4.649, 4.647, 4.646, 4.645, 4.645, 4.643],
    [4.9, 4.822, 4.764, 4.728, 4.696, 4.678, 4.667, 4.656, 4.651, 4.649, 4.647, 4.646, 4.645, 4.645, 4.643],
    [4.9, 4.82, 4.762, 4.726, 4.694, 4.676, 4.665, 4.654, 4.649, 4.647, 4.645, 4.644, 4.643, 4.643, 4.641]]

c100_b100_mean = [
    [5.4, 5.2, 5.05, 4.93, 4.836, 4.782, 4.749, 4.713, 4.695, 4.684, 4.678, 4.675, 4.673, 4.671, 4.671],
    [5.4, 5.2, 5.05, 4.931, 4.837, 4.783, 4.75, 4.714, 4.696, 4.685, 4.679, 4.676, 4.674, 4.672, 4.672],
    [5.4, 5.2, 5.05, 4.928, 4.834, 4.78, 4.747, 4.711, 4.693, 4.682, 4.676, 4.673, 4.671, 4.669, 4.669]]
c100_b100_hi = [
    [6.0, 5.6, 5.3, 5.1, 4.98, 4.888, 4.837, 4.761, 4.728, 4.714, 4.707, 4.704, 4.702, 4.701, 4.70],
    [6.0, 5.6, 5.3, 5.1, 4.98, 4.888, 4.837, 4.761, 4.728, 4.714, 4.707, 4.704, 4.702, 4.701, 4.70],
    [6.0, 5.6, 5.3, 5.1, 4.978, 4.886, 4.835, 4.758, 4.725, 4.711, 4.704, 4.701, 4.699, 4.698, 4.697]]
c100_b100_lo = [
    [5.0, 4.96, 4.895, 4.837, 4.775, 4.736, 4.71, 4.678, 4.663, 4.656, 4.652, 4.65, 4.649, 4.648, 4.646],
    [5.0, 4.96, 4.895, 4.837, 4.775, 4.736, 4.71, 4.678, 4.663, 4.656, 4.652, 4.65, 4.649, 4.648, 4.646],
    [5.0, 4.96, 4.893, 4.835, 4.773, 4.734, 4.708, 4.676, 4.661, 4.654, 4.65, 4.648, 4.647, 4.646, 4.644]]


# per row: epochs, y range, y ticks, panel data, legend position
ROWS = [
    (EPOCHS_SYN, (0.25, 2.0), [0.5, 1.0, 1.5, 2.0],
     [(syn_b10_mean, syn_b10_lo, syn_b10_hi, syn_b10_se),
      (syn_b50_mean, syn_b50_lo, syn_b50_hi, syn_b50_se),
      (syn_b100_mean, syn_b100_lo, syn_b100_hi, syn_b100_se)],
     ["upper right", "upper right", "upper right"]),
    (EPOCHS_A, (0.0, 0.30), [0.0, 0.05, 0.10, 0.15, 0.20, 0.25, 0.30],
     [(air_b10_mean, air_b10_lo, air_b10_hi, None),
      (air_b50_mean, air_b50_lo, air_b50_hi, None),
      (air_b100_mean, air_b100_lo, air_b100_hi, None)],
     ["upper right", "upper right", "upper right"]),
    (EPOCHS_A, (0.01, 0.10), [0.02, 0.04, 0.06, 0.08, 0.10],
     [(app_b10_mean, app_b10_lo, app_b10_hi, None),
      (app_b50_mean, app_b50_lo, app_b50_hi, None),
      (app_b100_mean, app_b100_lo, app_b100_hi, None)],
     ["upper right", "upper right", "upper right"]),
    (EPOCHS_B, (0.5, 2.5), [0.5, 1.0, 1.5, 2.0, 2.5],
     [(mnist_b10_mean, mnist_b10_lo, mnist_b10_hi, mnist_b10_se),
      (mnist_b50_mean, mnist_b50_lo, mnist_b50_hi, None),
      (mnist_b100_mean, mnist_b100_lo, mnist_b100_hi, None)],
     ["upper right", "upper right", "lower left"]),
    (EPOCHS_B, (0.5, 2.25), [0.5, 1.0, 1.5, 2.0],
     [(fmnist_b10_mean, fmnist_b10_lo, fmnist_b10_hi, fmnist_b10_se),
      (fmnist_b50_mean, fmnist_b50_lo, fmnist_b50_hi, None),
      (fmnist_b100_mean, fmnist_b100_lo, fmnist_b100_hi, None)],
     ["upper right", "upper right", "lower left"]),
    (EPOCHS_B, (2.0, 2.6), [2.0, 2.2, 2.4, 2.6],
     [(c10_b10_mean, c10_b10_lo, c10_b10_hi, c10_b10_se),
      (c10_b50_mean, c10_b50_lo, c10_b50_hi, None),
      (c10_b100_mean, c10_b100_lo, c10_b100_hi, None)],
     ["upper center", "upper right", "upper right"]),
    (EPOCHS_B, (4.6, 5.0), [4.6, 4.7, 4.8, 4.9, 5.0],
     [(c100_b10_mean, c100_b10_lo, c100_b10_hi, c100_b10_se),
      (c100_b50_mean, c100_b50_lo, c100_b50_hi, None),
      (c100_b100_mean, c100_b100_lo, c100_b100_hi, None)],
     ["upper left", "upper right", "upper right"]),
]

# pixel layout of the page (1351 x 2586)
W, H = 1351, 2586
ROW_TOPS = [66, 401, 786, 1201, 1511, 1907, 2245]
ROW_HEIGHTS = [211, 206, 211, 211, 217, 211, 212]
ROW_LEFTS = [[107, 547, 988], [117, 557, 999], [118, 559, 1000], [107, 548, 988],
             [107, 548, 988], [107, 548, 988], [107, 548, 988]]
COL_RIGHTS = [466, 907, 1347]
TITLE_X = [262, 703, 1143]
TITLE_LEN = [275, 274, 299]                      # measured widths of the titles
LABEL_TOP = [227, 490, 868, 1375, 1617, 2060, 2387]  # top end of each rotated label
LABEL_LEN = [165, 288, 325, 133, None, 177, None]

ttf_dir = os.path.join(matplotlib.get_data_path(), "fonts", "ttf")
cm_bold = os.path.join(ttf_dir, "cmb10.ttf")
cm_roman = os.path.join(ttf_dir, "cmr10.ttf")

fig = plt.figure(figsize=(W / 100, H / 100), dpi=100)

for r, (epochs, ylim, yticks, panels, locs) in enumerate(ROWS):
    for c, (means, los, his, ses) in enumerate(panels):
        left = ROW_LEFTS[r][c]
        top = ROW_TOPS[r]
        h = ROW_HEIGHTS[r]
        ax = fig.add_axes([left / W, 1 - (top + h) / H, (COL_RIGHTS[c] - left) / W, h / H])
        for k in range(3):
            ax.fill_between(epochs, los[k], his[k], color=COLORS[k], alpha=0.14, linewidth=0.8)
            if ses is not None:
                lower = [m - s for m, s in zip(means[k], ses[k])]
                upper = [m + s for m, s in zip(means[k], ses[k])]
                ax.fill_between(epochs, lower, upper, color=COLORS[k], alpha=0.3, linewidth=0)
        for k in range(3):
            ax.plot(epochs, means[k], color=COLORS[k], lw=1.6, label=LABELS[k])
        ax.set_xlim(0, 51)
        ax.set_ylim(*ylim)
        ax.set_xticks([0, 10, 20, 30, 40, 50])
        ax.set_yticks(yticks)
        ax.grid(True, alpha=0.3)
        ax.tick_params(labelsize=12.8)
        ax.set_xlabel("epoch", fontsize=12.8, labelpad=1)
        ax.set_ylabel("loss", fontsize=12.8, labelpad=1)
        ax.legend(loc=locs[c], fontsize=10.8, labelspacing=0.32, handlelength=2.0,
                  borderaxespad=0.4)

# big LaTeX-style headings, sized to the widths measured on the page
renderer = fig.canvas.get_renderer()

titles = [fig.text(TITLE_X[c] / W, 1 - 48 / H, t, fontproperties=FontProperties(fname=cm_bold, size=20),
                   ha="center", va="baseline") for c, t in enumerate(BATCH_TITLES)]
scale = sum(TITLE_LEN[c] / titles[c].get_window_extent(renderer).width for c in range(3)) / 3
for t in titles:
    t.set_fontsize(20 * scale)
fig.text(704 / W, 1 - 17 / H, "cccc", fontproperties=FontProperties(fname=cm_roman, size=20 * scale),
         ha="center", va="baseline")

labels = [fig.text(28 / W, 1 - LABEL_TOP[r] / H, name, fontproperties=FontProperties(fname=cm_bold, size=20),
                   rotation=90, rotation_mode="anchor", ha="right", va="baseline")
          for r, name in enumerate(DATASETS)]
ratios = [LABEL_LEN[r] / labels[r].get_window_extent(renderer).height
          for r in range(len(DATASETS)) if LABEL_LEN[r] is not None]
scale = sum(ratios) / len(ratios)
for t in labels:
    t.set_fontsize(20 * scale)

fig.savefig("out.png", dpi=100)
